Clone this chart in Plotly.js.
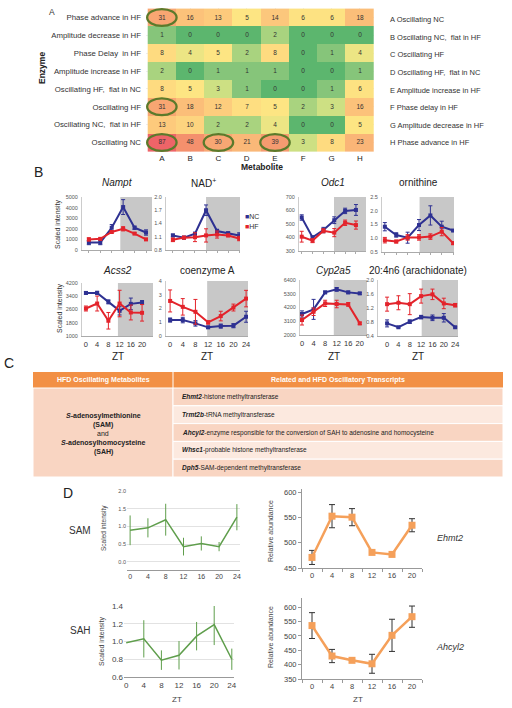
<!DOCTYPE html>
<html><head><meta charset="utf-8">
<script src="https://cdn.plot.ly/plotly-3.0.1.min.js"></script>
<style>html,body{margin:0;padding:0;background:#fff}#chart{width:512px;height:708px}</style>
</head><body><div id="chart"></div>
<script>
// ================= Panel A data =================
const metabolites = ['A','B','C','D','E','F','G','H'];
const enzymeRows = ['Phase advance in HF','Amplitude decrease in HF','Phase Delay  in HF','Amplitude increase in HF',
  'Oscillating HF,  flat in NC','Oscillating HF','Oscillating NC,  flat in HF','Oscillating NC'];
const counts = [
  [31,16,13,5,14,6,6,18],
  [1,0,0,0,2,0,0,0],
  [8,4,5,2,8,0,1,4],
  [2,0,1,1,1,0,0,1],
  [8,5,3,1,0,0,1,6],
  [31,18,12,7,5,2,3,16],
  [13,10,2,2,4,0,0,5],
  [87,48,30,21,39,3,8,23]
];
const circled = [['A',0],['A',5],['A',7],['C',7],['E',7]]; // [metabolite, enzyme row index]
const metaboliteLegend = ['A Oscillating NC','B Oscillating NC,  flat in HF','C Oscillating HF','D Oscillating HF,  flat in NC',
  'E Amplitude increase in HF','F Phase delay in HF','G Amplitude decrease in HF','H Phase advance in HF'];

// ================= Panel B data =================
const zt6 = [0,4,8,12,16,20];
const zt7 = [0,4,8,12,16,20,24];
const namptNC = [700,700,2100,4050,2100,1650],  namptNCerr = [200,200,300,700,150,250];
const namptHF = [1000,1050,1700,2000,1550,1000], namptHFerr = [150,100,100,200,100,100];
const nadNC = [1.13,1.08,1.17,1.70,1.23,1.18,1.13], nadNCerr = [0.03,0.03,0.03,0.12,0.04,0.03,0.06];
const nadHF = [1.03,1.08,1.09,1.13,1.15,1.13,1.06], nadHFerr = [0.04,0.03,0.10,0.15,0.08,0.03,0.05];
const odc1NC = [548,401,455,528,597,604], odc1NCerr = [20,10,20,25,20,40];
const odc1HF = [406,377,450,436,509,492], odc1HFerr = [40,15,15,30,20,30];
const ornNC = [1.42,1.12,1.02,1.48,1.83,1.42,1.28], ornNCerr = [0.15,0.08,0.2,0.2,0.35,0.2,0.03];
const ornHF = [0.93,0.88,1.03,1.03,1.06,1.24,0.82], ornHFerr = [0.1,0.05,0.1,0.1,0.1,0.15,0.05];
const acss2NC = [3600,3600,3060,2520,2940,3020], acss2NCerr = [80,100,120,250,350,120];
const acss2HF = [2660,2960,1920,2960,2420,2400], acss2HFerr = [150,450,500,800,450,500];
const coaNC = [1.16,1.16,0.92,0.63,0.72,0.75,1.40], coaNCerr = [0.15,0.2,0.2,0.08,0.15,0.15,0.4];
const coaHF = [2.55,2.12,1.76,0.99,1.45,2.07,2.72], coaHFerr = [0.8,0.6,0.9,0.12,0.35,0.25,0.6];
const cypNC = [3680,4050,5410,5650,5410,5330], cypNCerr = [250,800,100,150,100,80];
const cypHF = [3200,3860,4530,4480,4450,2930], cypHFerr = [400,300,250,300,150,100];
const araNC = [0.76,0.65,0.81,0.94,0.92,0.92,0.65], araNCerr = [0.1,0.02,0.05,0.05,0.08,0.12,0.02];
const araHF = [1.31,1.35,1.31,1.54,1.59,1.33,1.28], araHFerr = [0.2,0.2,0.3,0.2,0.15,0.15,0.05];

// ================= Panel C data =================
const tableHeaders = ['HFD Oscillating Metabolites','Related and HFD Oscillatory Transcripts'];
const metaboliteLines = ['<i>S</i>-adenosylmethionine','(SAM)','and','<i>S</i>-adenosylhomocysteine','(SAH)'];
const transcriptNames = ['Ehmt2','Trmt2b','Ahcyl2','Whsc1','Dph5'];
const transcriptDesc = ['-histone methyltransferase','-tRNA methyltransferase',
  '-enzyme responsible for the conversion of SAH to adenosine and homocysteine',
  '-probable histone methyltransferase','-SAM-dependent methyltransferase'];

// ================= Panel D data =================
const samVals = [0.89,0.96,1.19,0.43,0.52,0.43,1.26], samErr = [0.42,0.27,0.45,0.25,0.2,0.13,0.37];
const sahVals = [0.985,1.03,0.79,0.845,1.06,1.19,0.80], sahErr = [0,0.21,0.11,0.16,0.16,0.23,0.12];
const ehmt2Vals = [471,553,551,481,477,535], ehmt2Err = [14,23,17,3,3,13];
const ahcyl2Vals = [536,430,415,403,502,567], ahcyl2Err = [45,23,5,33,56,37];

// ================= helpers =================
const W = 512, H = 708;
const xd = (a,b) => [a/W, b/W];
const yd = (t,b) => [1-b/H, 1-t/H];
const px = x => x/W, py = y => 1-y/H;
const FONT = 'Liberation Sans, Arial, sans-serif';
const BLUE = '#2e3192', RED = '#e3232b', GRAY = '#c8c8c8';
const GREEN = '#5f9e4c', ORANGE = '#f5a05a';

const traces = [], shapes = [], annotations = [];
const layout = {
  width: W, height: H, margin: {l:0,r:0,t:0,b:0},
  paper_bgcolor: '#fff', plot_bgcolor: 'rgba(0,0,0,0)',
  font: {family: FONT, color: '#333'}, showlegend: false
};
function ann(text, x, y, o) {
  annotations.push(Object.assign({text, x: px(x), y: py(y), xref:'paper', yref:'paper',
    showarrow:false, xanchor:'center', yanchor:'middle', font:{size:8, color:'#333'}}, o||{}));
}

// ================= Panel A =================
const cs = [[0,'#5cb66e'],[0.0115,'#86c57a'],[0.023,'#a9d37f'],[0.0345,'#cde083'],[0.052,'#fde784'],
  [0.095,'#feda80'],[0.17,'#fcc47b'],[0.36,'#f8a572'],[0.55,'#f4906d'],[1,'#ee6468']];
traces.push({type:'heatmap', x: metabolites, y: enzymeRows, z: counts, colorscale: cs, zmin:0, zmax:87,
  showscale:false, texttemplate:'%{z}', textfont:{size:6.5, color:'#333'}, hoverinfo:'skip',
  xaxis:'x', yaxis:'y'});
layout.xaxis = {domain: xd(146,374), anchor:'y', tickfont:{size:8, color:'#222'}, ticks:'', showline:false, tickangle:0};
layout.yaxis = {domain: yd(8,152), anchor:'x', autorange:'reversed', tickfont:{size:7.8, color:'#333'}, ticks:'', ticklabelstandoff:4};
circled.forEach(([m, r]) => {
  const c = metabolites.indexOf(m);
  shapes.push({type:'circle', xref:'x', yref:'y', x0:c-0.52, x1:c+0.52, y0:r-0.47, y1:r+0.47,
    line:{color:'#5b7a2b', width:2.3}});
});
metaboliteLegend.forEach((t,i) => ann(t, 388, 20 + i*17.5, {xanchor:'left', font:{size:7.5, color:'#333'}}));
ann('A', 52, 12, {font:{size:8.5}});
ann('<b>Enzyme</b>', 42, 68, {textangle:-90, font:{size:8.5, color:'#222'}});
ann('<b>Metabolite</b>', 262, 167, {font:{size:8.5, color:'#222'}});

// ================= Panel B =================
const smalls = [
  {title:'<i>Nampt</i>', x:[82,152], y:[197,250], xr:[-2.4,22.1], yr:[0,5000], yt:[0,1000,2000,3000,4000,5000], fmt:'d', zt:zt6,
   nc:namptNC, nce:namptNCerr, hf:namptHF, hfe:namptHFerr, dark:11, lab:false},
  {title:'NAD<sup>+</sup>', x:[166,240], y:[197,250], xr:[-2.5,24.3], yr:[0.8,2.0], yt:[0.8,1.1,1.4,1.7,2.0], fmt:'.1f', zt:zt7,
   nc:nadNC, nce:nadNCerr, hf:nadHF, hfe:nadHFerr, dark:12, lab:false},
  {title:'<i>Odc1</i>', x:[299,366], y:[197,251], xr:[-1,23.7], yr:[300,700], yt:[300,400,500,600,700], fmt:'d', zt:zt6,
   nc:odc1NC, nce:odc1NCerr, hf:odc1HF, hfe:odc1HFerr, dark:11.9, lab:false},
  {title:'ornithine', x:[382,454], y:[197,252], xr:[-1,24.3], yr:[0.5,2.5], yt:[0.5,1.0,1.5,2.0,2.5], fmt:'.1f', zt:zt7,
   nc:ornNC, nce:ornNCerr, hf:ornHF, hfe:ornHFerr, dark:12.2, lab:false},
  {title:'<i>Acss2</i>', x:[82,153], y:[283,336], xr:[-1.4,23.9], yr:[1000,4200], yt:[1000,1800,2600,3400,4200], fmt:'d', zt:zt6,
   nc:acss2NC, nce:acss2NCerr, hf:acss2HF, hfe:acss2HFerr, dark:11.4, lab:true},
  {title:'coenzyme A', x:[166,248], y:[281,336], xr:[-1.3,24.6], yr:[0,4], yt:[0,1,2,3,4], fmt:'d', zt:zt7,
   nc:coaNC, nce:coaNCerr, hf:coaHF, hfe:coaHFerr, dark:11.7, lab:true},
  {title:'<i>Cyp2a5</i>', x:[300,367], y:[280,335], xr:[-0.7,22.5], yr:[2000,6400], yt:[2000,3100,4200,5300,6400], fmt:'d', zt:zt6,
   nc:cypNC, nce:cypNCerr, hf:cypHF, hfe:cypHFerr, dark:11, lab:true},
  {title:'20:4n6 (arachidonate)', x:[378,458], y:[280,336], xr:[-3.2,25], yr:[0.4,2.0], yt:[0.4,0.8,1.2,1.6,2.0], fmt:'.1f', zt:zt7,
   nc:araNC, nce:araNCerr, hf:araHF, hfe:araHFerr, dark:12.2, lab:true}
];
smalls.forEach((s,i) => {
  const n = i+2, xa = 'x'+n, ya = 'y'+n;
  layout['xaxis'+n] = {domain: xd(s.x[0],s.x[1]), anchor: ya, range: s.xr, showgrid:false, zeroline:false,
    showline:true, linecolor:'#aaa', linewidth:1, ticks: s.lab ? '' : 'outside', ticklen:2, tickcolor:'#aaa',
    tickvals: s.zt, showticklabels: s.lab, tickangle:0, tickfont:{size:7.5, color:'#333'}, ticklabelstandoff:1};
  layout['yaxis'+n] = {domain: yd(s.y[0],s.y[1]), anchor: xa, range: s.yr, showgrid:false, zeroline:false,
    showline:true, linecolor:'#ccc', tickvals: s.yt, tickformat: s.fmt, tickfont:{size:5.5, color:'#555'}, ticks:'', ticklabelstandoff:2};
  shapes.push({type:'rect', xref: xa, yref: ya+' domain', x0: s.dark, x1: s.xr[1], y0:0, y1:1,
    fillcolor: GRAY, line:{width:0}, layer:'below'});
  [['nc',BLUE,'nce'],['hf',RED,'hfe']].forEach(([k,col,ek]) => {
    traces.push({type:'scatter', mode:'lines+markers', x: s.zt, y: s[k], xaxis: xa, yaxis: ya,
      line:{color: col, width:2}, marker:{symbol:'square', size:4, color: col},
      error_y:{type:'data', array: s[ek], visible:true, color: col, thickness:1, width:2}, hoverinfo:'skip'});
  });
  const cx = (s.x[0]+s.x[1])/2;
  ann(s.title, cx, i<4 ? 183 : 271, {font:{size:10, color:'#222'}});
  if (s.lab) ann('ZT', cx, 356, {font:{size:10, color:'#222'}});
});
ann('B', 38, 172, {font:{size:14, color:'#222'}});
ann('Scaled intensity', 58, 224, {textangle:-90, font:{size:7, color:'#333'}});
ann('Scaled intensity', 60, 308, {textangle:-90, font:{size:7, color:'#333'}});
ann('<span style="color:'+BLUE+'">■</span>NC', 243, 217, {xanchor:'left', font:{size:7, color:'#333'}});
ann('<span style="color:'+RED+'">■</span>HF', 243, 226, {xanchor:'left', font:{size:7, color:'#333'}});

// ================= Panel C (table) =================
ann('C', 9, 363, {font:{size:14, color:'#222'}});
const TX0 = 33, TXS = 173, TX1 = 503, TH0 = 372, TH1 = 388, RH = 17.8;
shapes.push({type:'rect', xref:'paper', yref:'paper', x0:px(TX0), x1:px(TX1), y0:py(TH1), y1:py(TH0), fillcolor:'#f29045', line:{width:0}});
shapes.push({type:'line', xref:'paper', yref:'paper', x0:px(TXS), x1:px(TXS), y0:py(TH1), y1:py(TH0), line:{color:'#fff', width:1}});
ann('<b>'+tableHeaders[0]+'</b>', (TX0+TXS)/2, (TH0+TH1)/2, {font:{size:7, color:'#fff'}});
ann('<b>'+tableHeaders[1]+'</b>', (TXS+TX1)/2, (TH0+TH1)/2, {font:{size:7, color:'#fff'}});
shapes.push({type:'rect', xref:'paper', yref:'paper', x0:px(TX0), x1:px(TXS), y0:py(TH1+5*RH), y1:py(TH1), fillcolor:'#f9d5c2', line:{color:'#fff', width:1}});
transcriptNames.forEach((g,i) => {
  const y0 = TH1 + i*RH;
  shapes.push({type:'rect', xref:'paper', yref:'paper', x0:px(TXS), x1:px(TX1), y0:py(y0+RH), y1:py(y0),
    fillcolor: i%2===0 ? '#f9d5c2' : '#fce9df', line:{color:'#fff', width:1}});
  ann('<b><i>'+g+'</i></b>'+transcriptDesc[i], TXS+7, y0+RH/2, {xanchor:'left', font:{size:6.5, color:'#222'}});
});
metaboliteLines.forEach((t,i) => {
  ann(i===2 ? t : '<b>'+t+'</b>', (TX0+TXS)/2, 416 + i*9, {font:{size:7, color:'#222'}});
});

// ================= Panel D =================
ann('D', 68, 493, {font:{size:14, color:'#222'}});
// SAM
layout.xaxis10 = {domain: xd(127,240), anchor:'y10', range:[-0.7,24.7], tickvals: zt7, showgrid:false, zeroline:false,
  showline:true, linecolor:'#999', ticks:'', tickangle:0, tickfont:{size:7, color:'#444'}};
layout.yaxis10 = {domain: yd(491,570), anchor:'x10', range:[-0.23,2.0], tickvals:[0,0.5,1,1.5,2], tickformat:'.1f',
  showgrid:true, gridcolor:'#e2e2e2', zeroline:false, showline:false, ticks:'', tickfont:{size:5.5, color:'#555'}};
traces.push({type:'scatter', mode:'lines', x: zt7, y: samVals, xaxis:'x10', yaxis:'y10', line:{color:GREEN, width:1.5},
  error_y:{type:'data', array: samErr, visible:true, color:GREEN, thickness:1, width:0}, hoverinfo:'skip'});
// SAH
layout.xaxis11 = {domain: xd(124,234), anchor:'y11', range:[-0.5,24.5], tickvals: zt7, showgrid:false, zeroline:false,
  showline:true, linecolor:'#999', ticks:'', tickangle:0, tickfont:{size:8, color:'#444'}};
layout.yaxis11 = {domain: yd(606,677), anchor:'x11', range:[0.6,1.4], tickvals:[0.6,0.8,1.0,1.2,1.4], tickformat:'.1f',
  showgrid:true, gridcolor:'#e2e2e2', zeroline:false, showline:false, ticks:'', tickfont:{size:8, color:'#444'}};
traces.push({type:'scatter', mode:'lines', x: zt7, y: sahVals, xaxis:'x11', yaxis:'y11', line:{color:GREEN, width:1.5},
  error_y:{type:'data', array: sahErr, visible:true, color:GREEN, thickness:1, width:0}, hoverinfo:'skip'});
// Ehmt2 & Ahcyl2
const minorX = {tickvals:[-2,2,6,10,14,18,22], ticks:'outside', ticklen:3, tickcolor:'#999'};
layout.xaxis12 = {domain: xd(302,422), anchor:'y12', range:[-2,22], tickvals: zt6, showgrid:false, zeroline:false,
  showline:true, linecolor:'#999', ticks:'', tickangle:0, minor: minorX, tickfont:{size:7.5, color:'#444'}};
layout.yaxis12 = {domain: yd(489,568), anchor:'x12', range:[450,607], tickvals:[450,500,550,600], showgrid:false, zeroline:false,
  showline:true, linecolor:'#999', ticks:'outside', ticklen:3, tickcolor:'#999', tickfont:{size:7.5, color:'#444'}};
layout.xaxis13 = {domain: xd(302,422), anchor:'y13', range:[-2,22], tickvals: zt6, showgrid:false, zeroline:false,
  showline:true, linecolor:'#999', ticks:'', tickangle:0, minor: minorX, tickfont:{size:7.5, color:'#444'}};
layout.yaxis13 = {domain: yd(598,679), anchor:'x13', range:[350,632], tickvals:[350,400,450,500,550,600], showgrid:false, zeroline:false,
  showline:true, linecolor:'#999', ticks:'outside', ticklen:3, tickcolor:'#999', tickfont:{size:7.5, color:'#444'}};
[[ehmt2Vals, ehmt2Err, 12],[ahcyl2Vals, ahcyl2Err, 13]].forEach(([v,e,n]) => {
  traces.push({type:'scatter', mode:'lines+markers', x: zt6, y: v, xaxis:'x'+n, yaxis:'y'+n,
    line:{color:ORANGE, width:2.5}, marker:{symbol:'square', size:7, color:ORANGE},
    error_y:{type:'data', array: e, visible:true, color:'#333', thickness:1, width:3}, hoverinfo:'skip'});
});
ann('SAM', 80, 530, {font:{size:10, color:'#333'}});
ann('SAH', 80, 630, {font:{size:10, color:'#333'}});
ann('Scaled intensity', 104, 528, {textangle:-90, font:{size:6.5, color:'#444'}});
ann('Scaled intensity', 102, 641, {textangle:-90, font:{size:7, color:'#444'}});
ann('ZT', 177, 699, {font:{size:8, color:'#444'}});
ann('Relative abundance', 270, 531, {textangle:-90, font:{size:7, color:'#444'}});
ann('Relative abundance', 270, 637, {textangle:-90, font:{size:7, color:'#444'}});
ann('ZT', 358, 699, {font:{size:8, color:'#444'}});
ann('<i>Ehmt2</i>', 450, 538, {font:{size:9, color:'#333'}});
ann('<i>Ahcyl2</i>', 450, 647, {font:{size:9, color:'#333'}});

layout.shapes = shapes;
layout.annotations = annotations;
Plotly.newPlot('chart', traces, layout, {staticPlot:true, displayModeBar:false});
</script></body></html>
